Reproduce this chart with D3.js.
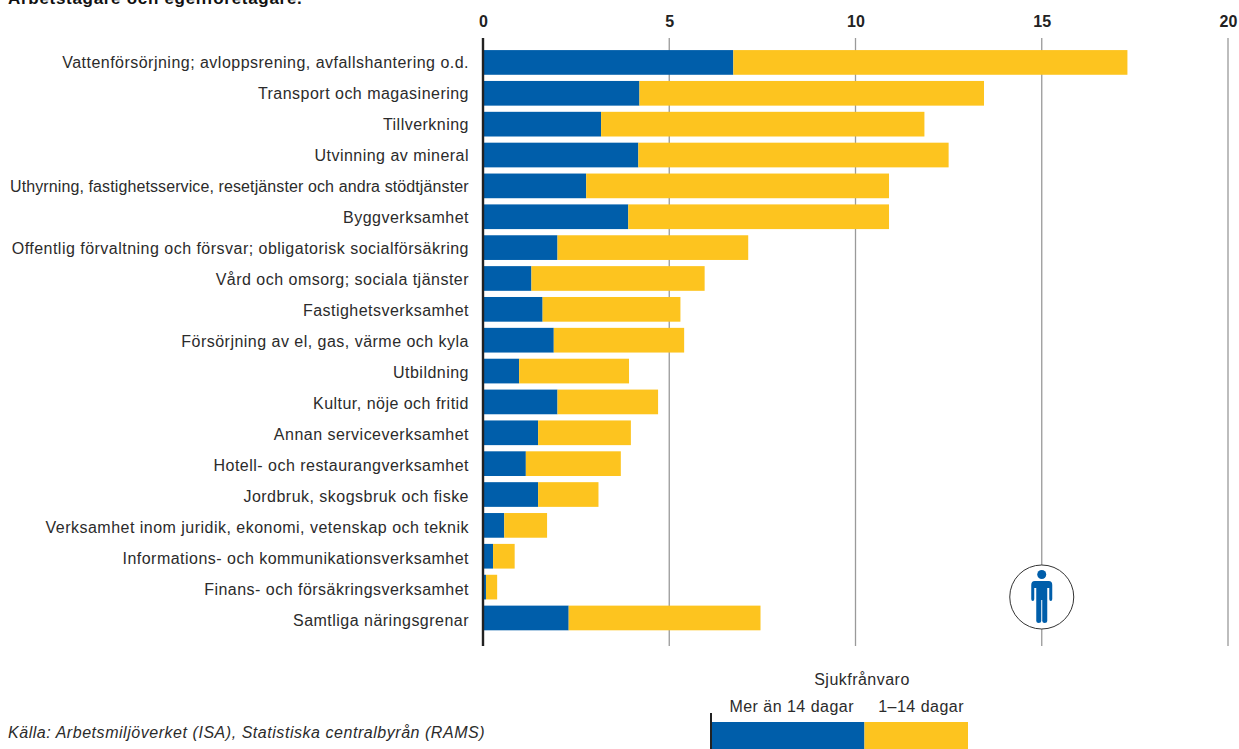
<!DOCTYPE html>
<html lang="sv">
<head>
	<meta charset="UTF-8">
	<title>Sjukfrånvaro per näringsgren</title>
	<script src="https://cdn.jsdelivr.net/npm/d3@7/dist/d3.min.js"></script>
	<style>
		html, body{
			margin: 0;
			padding: 0;
			background: #fff;
		}
		svg{
			display: block;
			font-family: "Liberation Sans", sans-serif;
		}
		.label{
			font-size: 16px;
			letter-spacing: 0.48px;
			fill: #2b2b2b;
		}
	</style>
</head>
<body>
	<div class="chart"></div>
	<script>
		var categories = [
			'Vattenförsörjning; avloppsrening, avfallshantering o.d.',
			'Transport och magasinering',
			'Tillverkning',
			'Utvinning av mineral',
			'Uthyrning, fastighetsservice, resetjänster och andra stödtjänster',
			'Byggverksamhet',
			'Offentlig förvaltning och försvar; obligatorisk socialförsäkring',
			'Vård och omsorg; sociala tjänster',
			'Fastighetsverksamhet',
			'Försörjning av el, gas, värme och kyla',
			'Utbildning',
			'Kultur, nöje och fritid',
			'Annan serviceverksamhet',
			'Hotell- och restaurangverksamhet',
			'Jordbruk, skogsbruk och fiske',
			'Verksamhet inom juridik, ekonomi, vetenskap och teknik',
			'Informations- och kommunikationsverksamhet',
			'Finans- och försäkringsverksamhet',
			'Samtliga näringsgrenar'
		];
		var longAbsence = [6.72, 4.2, 3.17, 4.17, 2.77, 3.9, 2.0, 1.3, 1.6, 1.9, 0.97, 2.0, 1.48, 1.15, 1.48, 0.57, 0.27, 0.08, 2.3];
		var shortAbsence = [10.58, 9.25, 8.68, 8.33, 8.13, 7.0, 5.12, 4.65, 3.7, 3.5, 2.95, 2.7, 2.49, 2.55, 1.62, 1.15, 0.58, 0.3, 5.15];
		var tickValues = [0, 5, 10, 15, 20];
		var legendTitle = 'Sjukfrånvaro';
		var seriesNames = ['Mer än 14 dagar', '1–14 dagar'];
		var legendValues = [4.12, 2.78];
		var colors = ['#005eaa', '#fdc41f'];

		var width = 1239;
		var height = 749;
		var maxLabelWidth = 459;

		var svg = d3.select('.chart')
					.append('svg')
					.attr('width', width)
					.attr('height', height);

		var xScale = d3.scaleLinear()
						.domain([0, 20])
						.range([483, 1228]);
		var yScale = d3.scaleBand()
						.domain(categories)
						.range([47, 633.4])
						.paddingInner(0.2)
						.paddingOuter(0.1);
		// labels run on a slightly wider pitch than the bars
		var labelScale = d3.scalePoint()
						.domain(categories)
						.range([62, 620]);

		svg.append('text')
			.attr('x', 8)
			.attr('y', 4)
			.attr('font-size', 17)
			.attr('font-weight', 'bold')
			.attr('letter-spacing', 0.7)
			.attr('fill', '#111')
			.text('Arbetstagare och egenföretagare.');

		// gridlines + top tick labels
		var xAxis = d3.axisTop(xScale)
						.tickValues(tickValues)
						.tickSize(0)
						.tickPadding(0);
		var axisG = svg.append('g')
						.attr('transform', 'translate(0,27)')
						.call(xAxis);
		axisG.select('.domain').remove();
		axisG.selectAll('text')
			.attr('font-family', '"Liberation Sans", sans-serif')
			.attr('font-size', 16)
			.attr('font-weight', 'bold')
			.attr('fill', '#222');

		svg.append('g')
			.selectAll('line')
			.data(tickValues.slice(1))
			.enter()
			.append('line')
			.attr('x1', function(d){ return xScale(d); })
			.attr('x2', function(d){ return xScale(d); })
			.attr('y1', 38)
			.attr('y2', 646)
			.attr('stroke', '#9a9a9a')
			.attr('stroke-width', 1.3);

		// stacked bars
		var rows = categories.map(function(c, i){
			return { name: c, a: longAbsence[i], b: shortAbsence[i] };
		});
		var bars = svg.append('g');
		bars.selectAll('rect.long')
			.data(rows)
			.enter()
			.append('rect')
			.attr('class', 'long')
			.attr('x', xScale(0))
			.attr('y', function(d){ return yScale(d.name); })
			.attr('width', function(d){ return xScale(d.a) - xScale(0); })
			.attr('height', yScale.bandwidth())
			.attr('fill', colors[0]);
		bars.selectAll('rect.short')
			.data(rows)
			.enter()
			.append('rect')
			.attr('class', 'short')
			.attr('x', function(d){ return xScale(d.a); })
			.attr('y', function(d){ return yScale(d.name); })
			.attr('width', function(d){ return xScale(d.a + d.b) - xScale(d.a); })
			.attr('height', yScale.bandwidth())
			.attr('fill', colors[1]);

		svg.append('g')
			.selectAll('text')
			.data(categories)
			.enter()
			.append('text')
			.attr('class', 'label')
			.attr('x', 469)
			.attr('y', function(d){ return labelScale(d); })
			.attr('dy', '0.35em')
			.attr('text-anchor', 'end')
			.text(function(d){ return d; })
			.each(function(){
				// the longest label is set tighter in the original
				if(this.getComputedTextLength() > maxLabelWidth){
					d3.select(this).attr('textLength', maxLabelWidth).attr('lengthAdjust', 'spacing');
				}
			});

		// zero line
		svg.append('line')
			.attr('x1', xScale(0))
			.attr('x2', xScale(0))
			.attr('y1', 38)
			.attr('y2', 646)
			.attr('stroke', '#222')
			.attr('stroke-width', 2.4);

		// person badge
		var badge = svg.append('g').attr('transform', 'translate(' + xScale(15) + ',597)');
		badge.append('circle')
			.attr('r', 32)
			.attr('fill', '#fff')
			.attr('stroke', '#333')
			.attr('stroke-width', 1);
		badge.append('circle')
			.attr('cy', -22.5)
			.attr('r', 4.5)
			.attr('fill', colors[0]);
		badge.append('path')
			.attr('fill', colors[0])
			.attr('d', 'M-7,-16 Q-10.5,-16 -10.5,-12 L-10.5,2 Q-10.5,4 -9,4 Q-7.5,4 -7.5,2 L-7.5,-9 L-5.5,-9 L-5.5,24 Q-5.5,26 -3,26 Q-0.5,26 -0.5,24 L-0.5,3 L0.5,3 L0.5,24 Q0.5,26 3,26 Q5.5,26 5.5,24 L5.5,-9 L7.5,-9 L7.5,2 Q7.5,4 9,4 Q10.5,4 10.5,2 L10.5,-12 Q10.5,-16 7,-16 Z');

		// legend
		var legendScale = d3.scaleLinear()
						.domain([0, d3.sum(legendValues)])
						.range([711, 968]);
		svg.append('text')
			.attr('class', 'label')
			.attr('x', 862)
			.attr('y', 685)
			.attr('text-anchor', 'middle')
			.text(legendTitle);
		svg.append('text')
			.attr('class', 'label')
			.attr('x', 854)
			.attr('y', 712)
			.attr('text-anchor', 'end')
			.text(seriesNames[0]);
		svg.append('text')
			.attr('class', 'label')
			.attr('x', 964)
			.attr('y', 712)
			.attr('text-anchor', 'end')
			.text(seriesNames[1]);
		svg.append('rect')
			.attr('x', legendScale(0))
			.attr('y', 722)
			.attr('width', legendScale(legendValues[0]) - legendScale(0))
			.attr('height', 27)
			.attr('fill', colors[0]);
		svg.append('rect')
			.attr('x', legendScale(legendValues[0]))
			.attr('y', 722)
			.attr('width', legendScale(legendValues[0] + legendValues[1]) - legendScale(legendValues[0]))
			.attr('height', 27)
			.attr('fill', colors[1]);
		svg.append('line')
			.attr('x1', 711)
			.attr('x2', 711)
			.attr('y1', 713)
			.attr('y2', 749)
			.attr('stroke', '#222')
			.attr('stroke-width', 2);

		svg.append('text')
			.attr('class', 'label')
			.attr('x', 8)
			.attr('y', 738)
			.attr('font-style', 'italic')
			.style('letter-spacing', '0.54px')
			.text('Källa: Arbetsmiljöverket (ISA), Statistiska centralbyrån (RAMS)');
	</script>
</body>
</html>
